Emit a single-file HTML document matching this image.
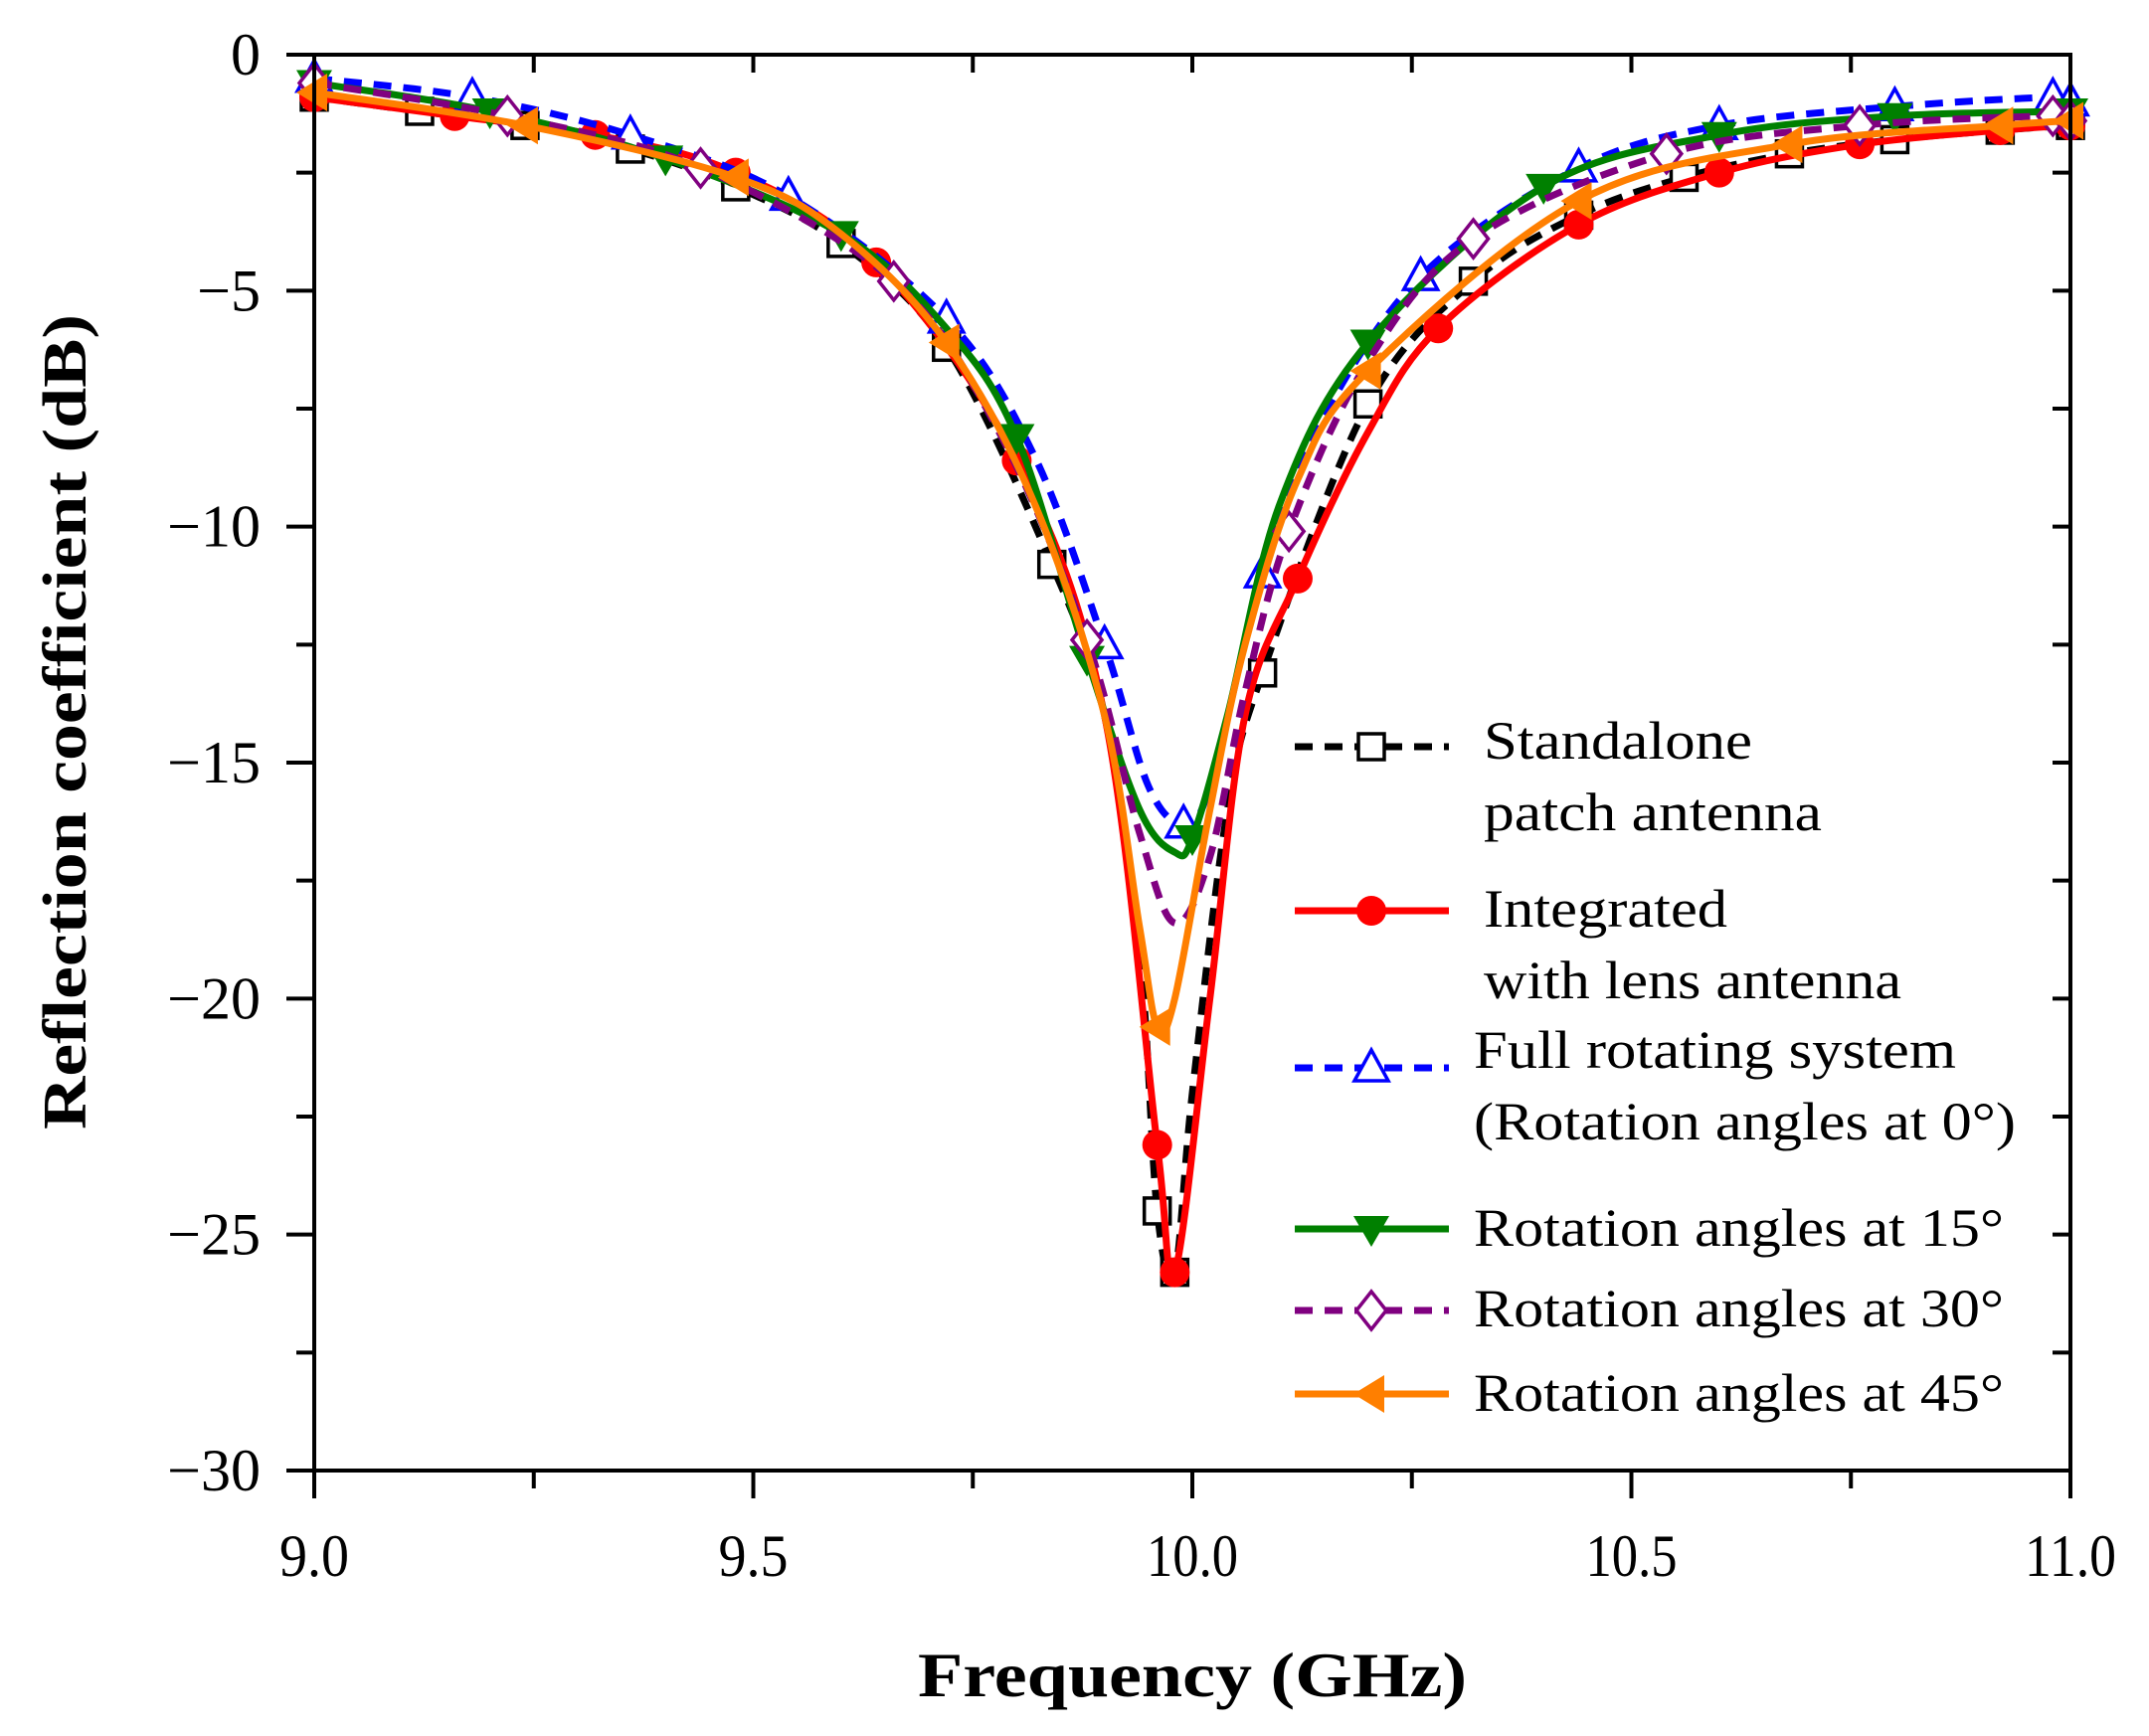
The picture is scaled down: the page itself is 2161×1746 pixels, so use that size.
<!DOCTYPE html>
<html><head><meta charset="utf-8"><style>
html,body{margin:0;padding:0;background:#fff;}
svg{display:block;}
text{font-family:"Liberation Serif",serif;}
</style></head><body>
<svg id="chart" width="2161" height="1746" viewBox="0 0 2161 1746" xmlns="http://www.w3.org/2000/svg">
<g id="plot"></g>
<g id="axes"></g>
<g id="legend"></g>
</svg>
<script>
const xTicks=[9.0,9.5,10.0,10.5,11.0];
const xTickLabels=["9.0","9.5","10.0","10.5","11.0"];
const yTicks=[0,-5,-10,-15,-20,-25,-30];
const yTickLabels=["0","\u22125","\u221210","\u221215","\u221220","\u221225","\u221230"];
const seriesNames=["Standalone patch antenna","Integrated with lens antenna","Full rotating system (Rotation angles at 0°)","Rotation angles at 15°","Rotation angles at 30°","Rotation angles at 45°"];
const fStandalone=[9.0,9.12,9.24,9.36,9.48,9.6,9.72,9.84,9.9,9.94,9.96,9.98,10.0,10.04,10.08,10.2,10.32,10.44,10.56,10.68,10.8,10.92,11.0];
const vStandalone=[-0.9,-1.2,-1.5,-2.0,-2.8,-4.0,-6.2,-10.8,-14,-19,-24.5,-25.8,-22,-16,-13.1,-7.4,-4.8,-3.4,-2.6,-2.1,-1.8,-1.6,-1.5];
const fIntegrated=[9.0,9.16,9.32,9.48,9.64,9.8,9.9,9.96,9.98,10.02,10.06,10.12,10.2,10.28,10.44,10.6,10.76,10.92,11.0];
const vIntegrated=[-0.9,-1.3,-1.7,-2.5,-4.4,-8.6,-14,-23.1,-25.8,-20,-14,-11.1,-8,-5.8,-3.6,-2.5,-1.9,-1.6,-1.5];
const fFull=[9.0,9.18,9.36,9.54,9.72,9.82,9.9,9.95,9.99,10.02,10.08,10.14,10.26,10.44,10.6,10.8,10.98,11.0];
const vFull=[-0.5,-0.9,-1.7,-3.0,-5.6,-8.5,-12.5,-15.5,-16.3,-15.5,-11,-8,-4.7,-2.4,-1.5,-1.1,-0.9,-1.0];
const f15=[9.0,9.2,9.4,9.6,9.72,9.8,9.88,9.94,9.98,10.0,10.04,10.1,10.2,10.4,10.6,10.8,11.0];
const v15=[-0.6,-1.2,-2.2,-3.8,-5.8,-8.1,-12.8,-16,-16.9,-16.6,-14,-9.5,-6.1,-2.8,-1.7,-1.3,-1.2];
const f30=[9.0,9.22,9.44,9.66,9.78,9.88,9.94,9.98,10.02,10.06,10.11,10.2,10.32,10.54,10.76,10.98,11.0];
const v30=[-0.6,-1.3,-2.4,-4.8,-8,-12.4,-16.5,-18.4,-17,-13.5,-10.1,-6.5,-3.9,-2.1,-1.5,-1.3,-1.4];
const f45=[9.0,9.24,9.48,9.6,9.72,9.82,9.9,9.94,9.96,9.98,10.02,10.06,10.12,10.2,10.44,10.68,10.92,11.0];
const v45=[-0.8,-1.5,-2.6,-3.8,-6.1,-9.5,-14,-18.5,-20.6,-20,-16,-12.5,-9,-6.7,-3.1,-1.9,-1.5,-1.4];
// which data points carry a marker (1 = marker)
const mStandalone=[1,1,1,1,1,1,1,1,0,0,1,1,0,0,1,1,1,1,1,1,1,1,1];
const mIntegrated=[1,1,1,1,1,1,0,1,1,0,0,1,0,1,1,1,1,1,1];
const mFull=[1,1,1,1,1,0,1,0,1,0,1,0,1,1,1,1,1,1];
const m15=[1,1,1,1,0,1,1,0,0,1,0,0,1,1,1,1,1];
const m30=[1,1,1,1,0,1,0,0,0,0,1,0,1,1,1,1,1];
const m45=[1,1,1,0,1,0,0,0,1,0,0,0,0,1,1,1,1,1];

const L=316,R=2082,T=55,B=1479;
const xS=f=>L+(f-9)/(11-9)*(R-L);
const yS=v=>T+(0-v)/(0+30)*(B-T);
const NS="http://www.w3.org/2000/svg";
function mk(tag,attrs,parent){const e=document.createElementNS(NS,tag);for(const k in attrs)e.setAttribute(k,attrs[k]);parent.appendChild(e);return e;}
const plot=document.getElementById('plot'),axes=document.getElementById('axes'),legend=document.getElementById('legend');

const styles=[
 {c:"#000",dash:"18 12",m:"square",f:fStandalone,v:vStandalone,mk:mStandalone,n:"standalone"},
 {c:"#f00",dash:"",m:"circle",f:fIntegrated,v:vIntegrated,mk:mIntegrated,n:"integrated"},
 {c:"#00f",dash:"18 12",m:"triup",f:fFull,v:vFull,mk:mFull,n:"full-rotating-0"},
 {c:"#008000",dash:"",m:"tridown",f:f15,v:v15,mk:m15,n:"rotation-15"},
 {c:"#800080",dash:"18 12",m:"diamond",f:f30,v:v30,mk:m30,n:"rotation-30"},
 {c:"#ff7f00",dash:"",m:"trileft",f:f45,v:v45,mk:m45,n:"rotation-45"}
];
function smoothPath(pts){
 let d="M"+pts[0][0]+","+pts[0][1];
 for(let i=0;i<pts.length-1;i++){
  const p0=pts[Math.max(0,i-1)],p1=pts[i],p2=pts[i+1],p3=pts[Math.min(pts.length-1,i+2)];
  const c1=[p1[0]+(p2[0]-p0[0])/6,p1[1]+(p2[1]-p0[1])/6],c2=[p2[0]-(p3[0]-p1[0])/6,p2[1]-(p3[1]-p1[1])/6];
  d+=" C"+c1[0]+","+c1[1]+" "+c2[0]+","+c2[1]+" "+p2[0]+","+p2[1];
 }
 return d;
}
function marker(type,x,y,c,parent){
 const s=15;let e;
 if(type==="square")e=mk('rect',{x:x-s+2,y:y-s+2,width:2*s-4,height:2*s-4,fill:"#fff",stroke:c,"stroke-width":3.5},parent);
 else if(type==="circle")e=mk('circle',{cx:x,cy:y,r:s,fill:c},parent);
 else if(type==="triup")e=mk('polygon',{points:`${x},${y-s-3} ${x+s+2},${y+s-2} ${x-s-2},${y+s-2}`,fill:"#fff",stroke:c,"stroke-width":3.5},parent);
 else if(type==="tridown")e=mk('polygon',{points:`${x},${y+s+3} ${x+s+3},${y-s+2} ${x-s-3},${y-s+2}`,fill:c},parent);
 else if(type==="diamond")e=mk('polygon',{points:`${x},${y-s-4} ${x+s},${y} ${x},${y+s+4} ${x-s},${y}`,fill:"#fff",stroke:c,"stroke-width":3.5},parent);
 else e=mk('polygon',{points:`${x-s-3},${y} ${x+s-2},${y-s-4} ${x+s-2},${y+s+4}`,fill:c},parent);
 
 return e;
}
styles.forEach((s,si)=>{
 const g=mk('g',{},plot);
 
 
 const pts=s.f.map((f,i)=>[xS(f),yS(s.v[i])]);
 const p=mk('path',{d:smoothPath(pts),fill:"none",stroke:s.c,"stroke-width":7,"stroke-dasharray":s.dash,"stroke-linejoin":"round"},g);
 
 
 pts.forEach((pt,i)=>{if(s.mk[i]){const m=marker(s.m,pt[0],pt[1],s.c,g);}});
});

const fr=mk('rect',{x:L,y:T,width:R-L,height:B-T,fill:"none",stroke:"#000","stroke-width":4},axes);

xTicks.forEach((t,i)=>{
 const x=xS(t);
 mk('line',{x1:x,y1:B,x2:x,y2:B+28,stroke:"#000","stroke-width":4},axes);
 mk('line',{x1:x,y1:T,x2:x,y2:T+18,stroke:"#000","stroke-width":4},axes);
 if(i<xTicks.length-1){const xm=xS(t+0.25);mk('line',{x1:xm,y1:B,x2:xm,y2:B+18,stroke:"#000","stroke-width":4},axes);mk('line',{x1:xm,y1:T,x2:xm,y2:T+18,stroke:"#000","stroke-width":4},axes);}
 const tx=mk('text',{x:x,y:1585,"font-size":60,"text-anchor":"middle",textLength:xTickLabels[i].length>3?92:70,lengthAdjust:"spacingAndGlyphs"},axes);
 tx.textContent=xTickLabels[i];
 
});
yTicks.forEach((t,i)=>{
 const y=yS(t);
 mk('line',{x1:L-28,y1:y,x2:L,y2:y,stroke:"#000","stroke-width":4},axes);
 mk('line',{x1:R-18,y1:y,x2:R,y2:y,stroke:"#000","stroke-width":4},axes);
 if(i<yTicks.length-1){const ym=yS(t-2.5);mk('line',{x1:L-18,y1:ym,x2:L,y2:ym,stroke:"#000","stroke-width":4},axes);mk('line',{x1:R-18,y1:ym,x2:R,y2:ym,stroke:"#000","stroke-width":4},axes);}
 const tx=mk('text',{x:262,y:y+20,"font-size":60,"text-anchor":"end"},axes);
 tx.textContent=yTickLabels[i];
 
});
const xt=mk('text',{x:1199,y:1706,"font-size":64,"font-weight":"bold","text-anchor":"middle",textLength:552,lengthAdjust:"spacingAndGlyphs"},axes);
xt.textContent="Frequency (GHz)";
const yt=mk('text',{x:0,y:0,"font-size":62,"font-weight":"bold","text-anchor":"middle",textLength:820,lengthAdjust:"spacingAndGlyphs",transform:"translate(86,726) rotate(-90)"},axes);
yt.textContent="Reflection coefficient (dB)";

const legRows=[751,916,1074,1236,1318,1402];
const legText=[[["Standalone",763],["patch antenna",835]],[["Integrated",932],["with lens antenna",1004]],[["Full rotating system",1074],["(Rotation angles at 0°)",1146]],[["Rotation angles at 15°",1253]],[["Rotation angles at 30°",1334]],[["Rotation angles at 45°",1419]]];
const legLens=[[270,340],[245,420],[485,545],[533],[533],[533]];
styles.forEach((s,i)=>{
 const g=mk('g',{},legend);
 
 
 const y=legRows[i];
 mk('line',{x1:1302,y1:y,x2:1457,y2:y,stroke:s.c,"stroke-width":7,"stroke-dasharray":s.dash},g);
 marker(s.m,1379,y,s.c,g);
 const tx0=(i<2)?1492:1482;
 legText[i].forEach((ln,j)=>{
  const t=mk('text',{x:tx0,y:ln[1],"font-size":54,textLength:legLens[i][j],lengthAdjust:"spacingAndGlyphs"},g);
  t.textContent=ln[0];
  
  
 });
});
</script>
</body></html>
